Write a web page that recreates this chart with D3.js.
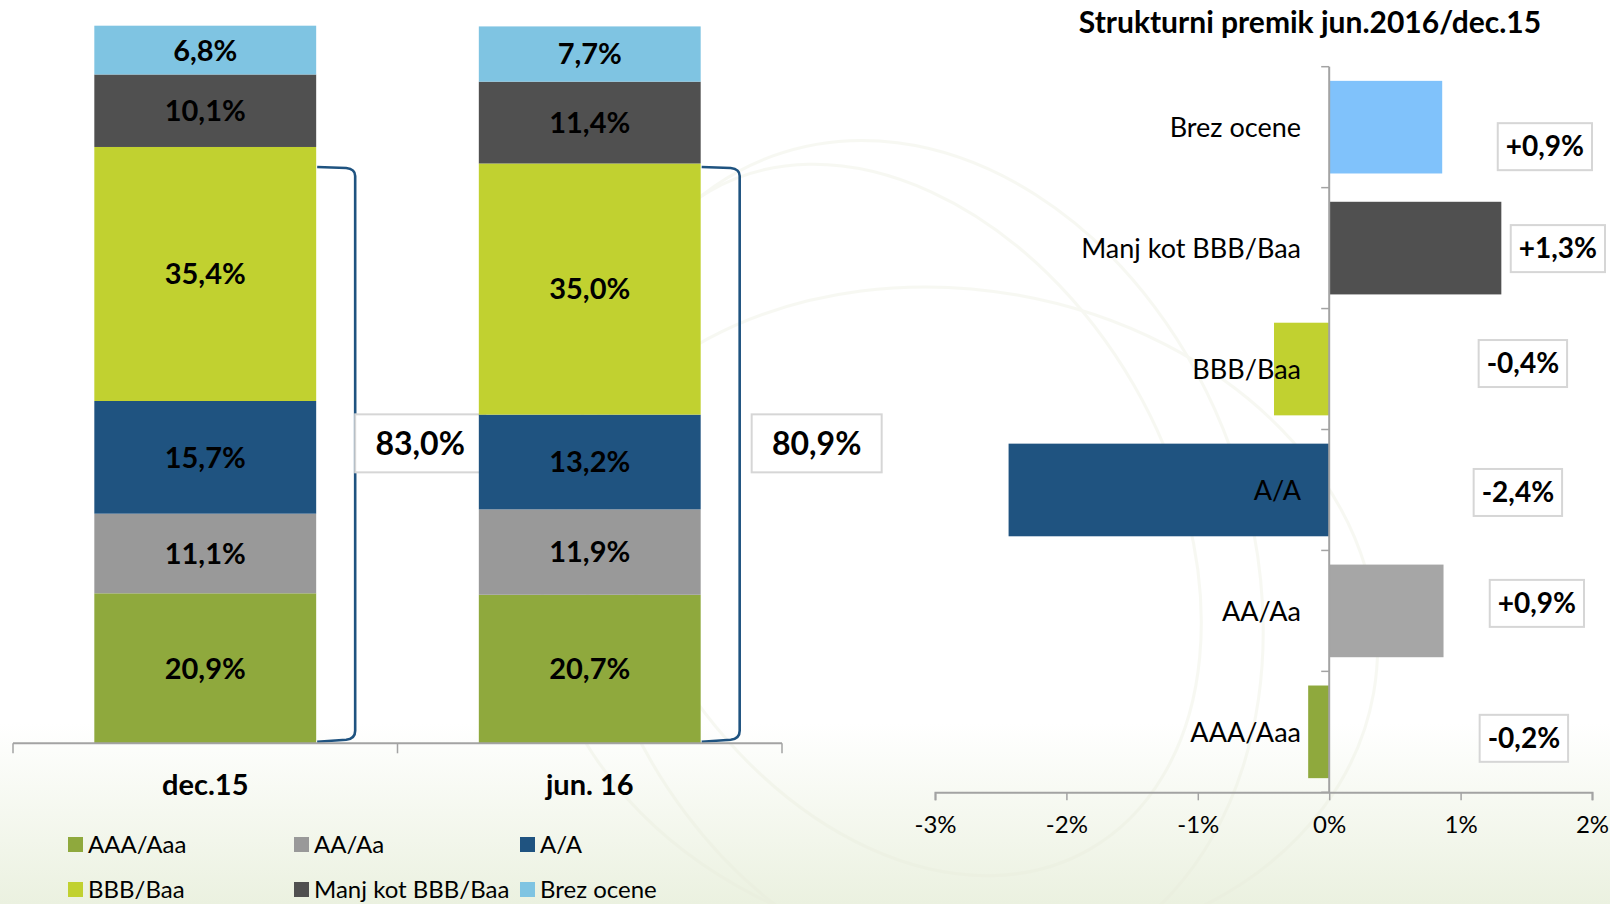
<!DOCTYPE html>
<html>
<head>
<meta charset="utf-8">
<script src="https://cdn.jsdelivr.net/npm/d3@7"></script>
<style>
  html, body { margin: 0; padding: 0; background: #ffffff; }
  svg { display: block; }
  text { font-family: Lato, "Open Sans", "Liberation Sans", sans-serif; fill: #000; }
</style>
</head>
<body>
<svg id="chart" width="1610" height="904"></svg>
<script>
// ---- data -------------------------------------------------------------
const periods = ["dec.15", "jun. 16"];
const ratings = ["AAA/Aaa", "AA/Aa", "A/A", "BBB/Baa", "Manj kot BBB/Baa", "Brez ocene"];
// share of each rating class in the portfolio (%), bottom to top
const shareDec15 = [20.9, 11.1, 15.7, 35.4, 10.1, 6.8];
const shareJun16 = [20.7, 11.9, 13.2, 35.0, 11.4, 7.7];
// investment-grade share (AAA..BBB) per period
const investmentGrade = [83.0, 80.9];
// structural shift jun.2016 vs dec.15, percentage points
const shiftRatings = ["Brez ocene", "Manj kot BBB/Baa", "BBB/Baa", "A/A", "AA/Aa", "AAA/Aaa"];
const shiftValues = [0.86, 1.31, -0.42, -2.44, 0.87, -0.16];
const shiftTicks = [-3, -2, -1, 0, 1, 2];

// ---- layout & styling -------------------------------------------------
const stackColors = {
  "AAA/Aaa": "#8fa93d", "AA/Aa": "#999999", "A/A": "#1f5380",
  "BBB/Baa": "#c1d130", "Manj kot BBB/Baa": "#505050", "Brez ocene": "#7fc4e2"
};
const shiftColors = {
  "AAA/Aaa": "#8fa93d", "AA/Aa": "#a6a6a6", "A/A": "#1f5380",
  "BBB/Baa": "#c1d130", "Manj kot BBB/Baa": "#505050", "Brez ocene": "#80c2fb"
};
// hand placement of the annotation boxes (px offsets from their default spot)
const valueBoxNudge = [[12, 19], [25, 0], [-10, -6], [-15, 2], [4, -8], [-9, 6]];
const gradeBoxNudge = [-6, 6];
const axisGrey = "#a3a3a3";
const pct1 = v => d3.format(".1f")(v).replace("\u2212", "-").replace(".", ",") + "%";
const signedPct = v => (v > 0 ? "+" : "") + pct1(v);

const svg = d3.select("#chart");

// ---- background: soft green wash and faint swirl ----------------------
const defs = svg.append("defs");
const wash = defs.append("linearGradient").attr("id", "wash")
  .attr("x1", 0).attr("y1", 0).attr("x2", 0).attr("y2", 1);
wash.append("stop").attr("offset", "0.8").attr("stop-color", "#ffffff");
wash.append("stop").attr("offset", "1").attr("stop-color", "#ebf1e0");
svg.append("rect").attr("width", 1610).attr("height", 904).attr("fill", "url(#wash)");

const swirl = svg.append("g").attr("fill", "none").attr("stroke", "#e9ecdc").attr("stroke-width", 3).attr("opacity", 0.35);
[[920, 560, 330, 430, -20], [900, 520, 270, 380, -30], [960, 620, 420, 330, 10]]
  .forEach(([cx, cy, rx, ry, rot]) => {
    swirl.append("ellipse").attr("cx", cx).attr("cy", cy).attr("rx", rx).attr("ry", ry)
      .attr("transform", `rotate(${rot},${cx},${cy})`);
  });

// ---- left: stacked rating structure ----------------------------------
const xCat = d3.scaleBand().domain(periods).range([13, 782]).padding(0);
const barW = xCat.bandwidth() * 0.577;
const barX = p => xCat(p) + (xCat.bandwidth() - barW) / 2;
const yShare = d3.scaleLinear().domain([0, 100]).range([743.3, 25.7]);

const rows = periods.map((p, i) => {
  const vals = i === 0 ? shareDec15 : shareJun16;
  const o = { period: p };
  ratings.forEach((r, j) => o[r] = vals[j]);
  return o;
});
const stacked = d3.stack().keys(ratings)(rows);

// bracket and investment-grade boxes sit under the bars
const bracketTop = 80.3, bracketBottom = 0.5;
const bracketG = svg.append("g");
periods.forEach((p, i) => {
  const x0 = barX(p) + barW + 1, x1 = x0 + 38, r = 9;
  const yt = yShare(bracketTop), yb = yShare(bracketBottom);
  bracketG.append("path")
    .attr("d", `M${x0},${yt} L${x1 - r},${yt + 1} Q${x1},${yt + 2} ${x1},${yt + r} L${x1},${yb - r} Q${x1},${yb - 1} ${x1 - r},${yb} L${x0},${yb + 2}`)
    .attr("fill", "none").attr("stroke", "#1f5380").attr("stroke-width", 2.6);
});

const boxG = svg.append("g");
periods.forEach((p, i) => {
  const cx = barX(p) + barW + 110 + gradeBoxNudge[i];
  const cy = yShare(41.8);
  boxG.append("rect").attr("x", cx - 65).attr("y", cy - 29).attr("width", 130).attr("height", 58)
    .attr("fill", "#ffffff").attr("stroke", "#d6d6d6").attr("stroke-width", 2);
  boxG.append("text").attr("x", cx).attr("y", cy).attr("dy", "0.36em")
    .attr("text-anchor", "middle").attr("font-size", 32).attr("font-weight", 700)
    .text(pct1(investmentGrade[i]));
});

const segG = svg.append("g");
stacked.forEach(layer => {
  layer.forEach(seg => {
    const p = seg.data.period;
    segG.append("rect")
      .attr("x", barX(p)).attr("width", barW)
      .attr("y", yShare(seg[1])).attr("height", yShare(seg[0]) - yShare(seg[1]))
      .attr("fill", stackColors[layer.key]);
  });
});
stacked.forEach(layer => {
  layer.forEach(seg => {
    const p = seg.data.period;
    segG.append("text")
      .attr("x", barX(p) + barW / 2).attr("y", (yShare(seg[0]) + yShare(seg[1])) / 2)
      .attr("dy", "0.36em").attr("text-anchor", "middle")
      .attr("font-size", 29).attr("font-weight", 700)
      .text(pct1(seg.data[layer.key]));
  });
});

// category axis with ticks at band edges
const catAxis = svg.append("g");
catAxis.append("line").attr("x1", 13).attr("x2", 782).attr("y1", yShare(0)).attr("y2", yShare(0))
  .attr("stroke", axisGrey).attr("stroke-width", 2);
[13, xCat(periods[1]), 782].forEach(x => {
  catAxis.append("line").attr("x1", x).attr("x2", x).attr("y1", yShare(0)).attr("y2", yShare(0) + 10)
    .attr("stroke", axisGrey).attr("stroke-width", 1.5);
});
periods.forEach(p => {
  catAxis.append("text").attr("x", xCat(p) + xCat.bandwidth() / 2).attr("y", 795)
    .attr("text-anchor", "middle").attr("font-size", 29).attr("font-weight", 700).text(p);
});

// legend
const legend = svg.append("g");
const legCols = [68, 294, 520], legRows = [837, 882];
ratings.forEach((r, i) => {
  const gx = legCols[i % 3], gy = legRows[Math.floor(i / 3)];
  legend.append("rect").attr("x", gx).attr("y", gy).attr("width", 15).attr("height", 15).attr("fill", stackColors[r]);
  legend.append("text").attr("x", gx + 20).attr("y", gy + 16).attr("font-size", 24).text(r);
});

// ---- right: structural shift ------------------------------------------
const xShift = d3.scaleLinear().domain([-3, 2]).range([935, 1592]);
const yShift = d3.scaleBand().domain(shiftRatings).range([66.7, 792.3]).padding(0);
const barH = yShift.bandwidth() * 0.766;

svg.append("text").attr("x", 1310).attr("y", 33).attr("text-anchor", "middle")
  .attr("font-size", 30).attr("font-weight", 700).text("Strukturni premik jun.2016/dec.15");

const shiftG = svg.append("g");
shiftRatings.forEach((r, i) => {
  const v = shiftValues[i];
  shiftG.append("rect")
    .attr("x", xShift(Math.min(0, v))).attr("width", Math.abs(xShift(v) - xShift(0)))
    .attr("y", yShift(r) + (yShift.bandwidth() - barH) / 2).attr("height", barH)
    .attr("fill", shiftColors[r]);
});

// value axis along the bottom
const xAxisG = svg.append("g").attr("transform", `translate(0,${yShift.range()[1]})`)
  .call(d3.axisBottom(xShift).tickValues(shiftTicks).tickFormat(d => d + "%").tickSize(8).tickPadding(16));
xAxisG.select(".domain").attr("stroke", axisGrey).attr("stroke-width", 2);
xAxisG.selectAll(".tick line").attr("stroke", axisGrey).attr("stroke-width", 1.5);
xAxisG.selectAll(".tick text").attr("font-size", 24).attr("font-family", null).attr("fill", "#000");

// category axis at zero
const zeroX = xShift(0);
const yAxisG = svg.append("g");
yAxisG.append("line").attr("x1", zeroX).attr("x2", zeroX).attr("y1", yShift.range()[0]).attr("y2", yShift.range()[1])
  .attr("stroke", axisGrey).attr("stroke-width", 2);
const bounds = shiftRatings.map(r => yShift(r)).concat([yShift.range()[1]]);
bounds.forEach(y => {
  yAxisG.append("line").attr("x1", zeroX - 8).attr("x2", zeroX).attr("y1", y).attr("y2", y)
    .attr("stroke", axisGrey).attr("stroke-width", 1.5);
});
shiftRatings.forEach(r => {
  yAxisG.append("text").attr("x", 1301).attr("y", yShift(r) + yShift.bandwidth() / 2)
    .attr("dy", "0.36em").attr("text-anchor", "end").attr("font-size", 27).text(r);
});

// value boxes
const valG = svg.append("g");
shiftRatings.forEach((r, i) => {
  const cx = xShift(1.55) + valueBoxNudge[i][0];
  const cy = yShift(r) + yShift.bandwidth() / 2 + valueBoxNudge[i][1];
  const t = valG.append("text").attr("x", cx).attr("y", cy).attr("dy", "0.36em")
    .attr("text-anchor", "middle").attr("font-size", 28).attr("font-weight", 700)
    .text(signedPct(shiftValues[i]));
  const w = t.node().getComputedTextLength() + 16;
  valG.insert("rect", "text").attr("x", cx - w / 2).attr("y", cy - 23).attr("width", w).attr("height", 47)
    .attr("fill", "#ffffff").attr("stroke", "#d6d6d6").attr("stroke-width", 2);
});
</script>
</body>
</html>
